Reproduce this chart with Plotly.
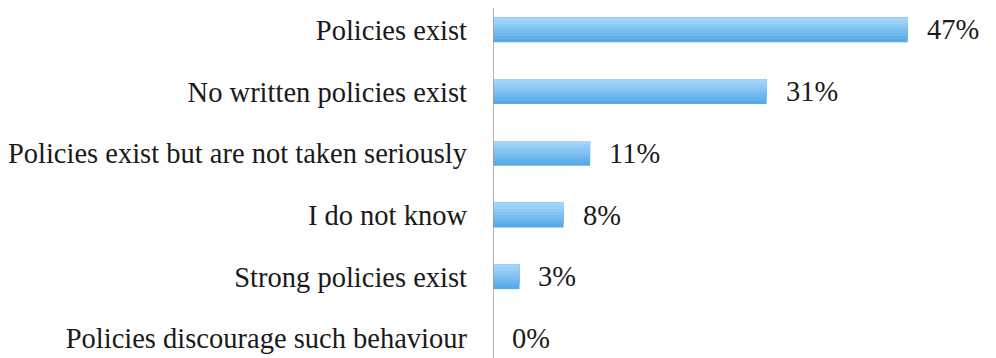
import plotly.graph_objects as go

categories = [
    "Policies exist",
    "No written policies exist",
    "Policies exist but are not taken seriously",
    "I do not know",
    "Strong policies exist",
    "Policies discourage such behaviour",
]
values = [47, 31, 11, 8, 3, 0]
value_labels = [f"{v}%" for v in values]

FONT = "Liberation Serif"
FONT_SIZE = 28.5

# gradient layers: (width, color) from bottom/dark to top/light
layers = [
    (0.40, "#58a9e7"),
    (0.35, "#62b0eb"),
    (0.30, "#6db7ee"),
    (0.25, "#78bdf1"),
    (0.20, "#83c4f3"),
    (0.15, "#8ecaf6"),
    (0.10, "#98d0f8"),
    (0.05, "#a2d5fa"),
]

fig = go.Figure()
for w, c in layers:
    fig.add_trace(go.Bar(
        x=values, y=categories, orientation="h",
        marker=dict(color=c, line=dict(width=0)),
        width=w, offset=-0.20,
        hoverinfo="skip",
    ))

annotations = [
    dict(x=v, y=cat, xref="x", yref="y", text=lab, showarrow=False,
         xanchor="left", yanchor="middle", xshift=17,
         font=dict(family=FONT, size=FONT_SIZE, color="#1a1a1a"))
    for v, cat, lab in zip(values, categories, value_labels)
]

fig.update_layout(
    width=996, height=358,
    margin=dict(l=493, r=0, t=0, b=0),
    paper_bgcolor="white", plot_bgcolor="white",
    showlegend=False, barmode="overlay",
    xaxis=dict(range=[0, 57], visible=False, fixedrange=True),
    yaxis=dict(
        type="category",
        categoryorder="array", categoryarray=categories,
        range=[5.316, -0.486],
        showgrid=False, zeroline=False, showline=False,
        ticks="", ticklabelstandoff=25,
        tickfont=dict(family=FONT, size=FONT_SIZE, color="#1a1a1a"),
        automargin=False,
    ),
    annotations=annotations,
    shapes=[dict(
        type="line", xref="x", yref="paper",
        x0=0, x1=0, y0=0, y1=1 - 8 / 358,
        line=dict(color="#9a9a9a", width=1.5),
    )],
)

fig.write_html("out.html")
